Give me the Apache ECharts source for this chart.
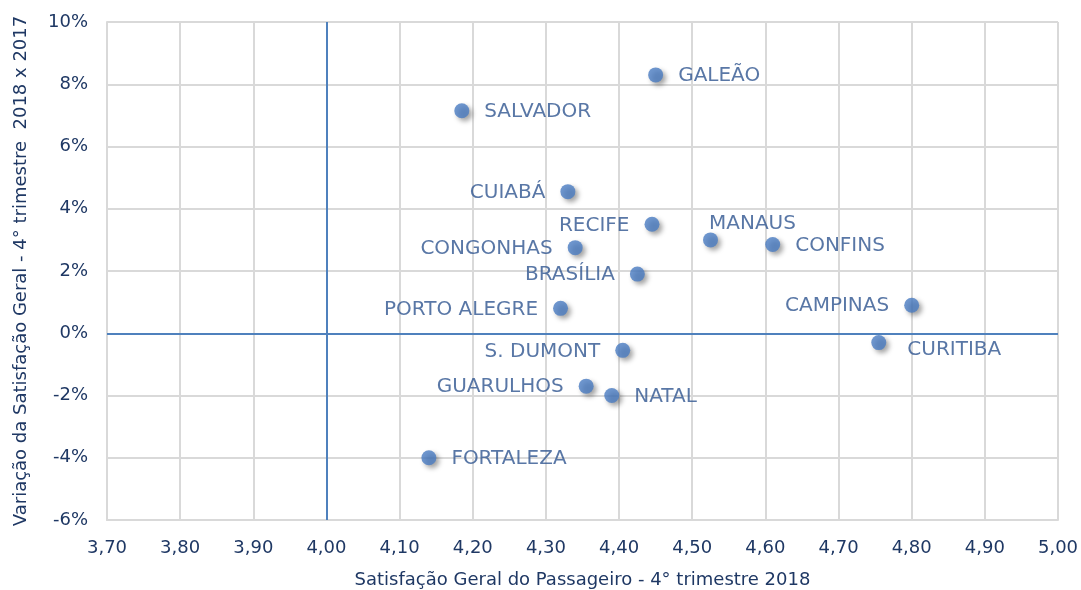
<!DOCTYPE html>
<html>
<head>
<meta charset="utf-8">
<script src="https://cdn.jsdelivr.net/npm/echarts@6/dist/echarts.min.js"></script>
<style>
  html, body { margin: 0; padding: 0; background: #fff; }
  #chart-container { width: 1081px; height: 590px; }
</style>
</head>
<body>
<div id="chart-container"></div>
<script>
var airports = ['GALEÃO', 'SALVADOR', 'CUIABÁ', 'RECIFE', 'MANAUS', 'CONFINS', 'CONGONHAS', 'BRASÍLIA',
  'PORTO ALEGRE', 'CAMPINAS', 'CURITIBA', 'S. DUMONT', 'GUARULHOS', 'NATAL', 'FORTALEZA'];
var satisfacao = [4.45, 4.185, 4.33, 4.445, 4.525, 4.61, 4.34, 4.425, 4.32, 4.80, 4.755, 4.405, 4.355, 4.39, 4.14];
var variacao = [8.3, 7.15, 4.55, 3.5, 3.0, 2.85, 2.75, 1.9, 0.8, 0.9, -0.3, -0.55, -1.7, -2.0, -4.0];

var dom = document.getElementById('chart-container');
var myChart = echarts.init(dom, null, { renderer: 'canvas' });

var fontFam = 'DejaVu Sans';
var labelColor = '#2f5590';
var axisColor = '#1f3864';

// which side of the dot each label sits on
var leftSide = ['CUIABÁ', 'RECIFE', 'CONGONHAS', 'BRASÍLIA', 'PORTO ALEGRE', 'CAMPINAS', 'S. DUMONT', 'GUARULHOS'];

var points = airports.map(function (name, i) {
  var lbl = { position: leftSide.indexOf(name) >= 0 ? 'left' : 'right', offset: [0, 1] };
  if (name === 'MANAUS') lbl.offset = [-24, -16];
  if (name === 'CURITIBA') lbl.offset = [6, 7];
  return { name: name, value: [satisfacao[i], variacao[i]], label: lbl };
});

var option = {
  animation: false,
  grid: { left: 107, right: 23, top: 22, bottom: 70, outerBoundsMode: 'none' },
  xAxis: {
    type: 'value',
    min: 3.7,
    max: 5.0,
    interval: 0.1,
    name: 'Satisfação Geral do Passageiro - 4° trimestre 2018',
    nameLocation: 'middle',
    nameGap: 51,
    nameTextStyle: { color: axisColor, fontSize: 18, fontFamily: fontFam },
    axisLine: { onZero: false, lineStyle: { color: '#d9d9d9', width: 2 } },
    axisTick: { show: false },
    axisLabel: {
      color: axisColor, fontSize: 18, fontFamily: fontFam, margin: 19,
      formatter: function (v) { return v.toFixed(2).replace('.', ','); }
    },
    splitLine: { show: true, lineStyle: { color: '#d9d9d9', width: 2 } }
  },
  yAxis: {
    type: 'value',
    min: -6,
    max: 10,
    interval: 2,
    name: 'Variação da Satisfação Geral - 4° trimestre  2018 x 2017',
    nameLocation: 'middle',
    nameGap: 77,
    nameTextStyle: { color: axisColor, fontSize: 18, fontFamily: fontFam },
    axisLine: { show: true, onZero: false, lineStyle: { color: '#d9d9d9', width: 2 } },
    axisTick: { show: false },
    axisLabel: { color: axisColor, fontSize: 18, fontFamily: fontFam, margin: 19, formatter: '{value}%' },
    splitLine: { show: true, lineStyle: { color: '#d9d9d9', width: 2 } }
  },
  series: [
    {
      type: 'scatter',
      symbolSize: 15,
      data: points,
      itemStyle: {
        color: '#4a7cc2',
        shadowColor: 'rgba(0,0,0,0.45)',
        shadowBlur: 5,
        shadowOffsetX: 3,
        shadowOffsetY: 3
      },
      label: {
        show: true,
        formatter: '{b}',
        distance: 15,
        color: labelColor,
        fontSize: 20,
        fontFamily: fontFam
      },
      markLine: {
        silent: true,
        symbol: 'none',
        label: { show: false },
        lineStyle: { color: '#4f81bd', width: 2, type: 'solid' },
        data: [{ xAxis: 4.0 }, { yAxis: 0 }]
      }
    }
  ]
};

myChart.setOption(option);
window.addEventListener('resize', myChart.resize);
</script>
</body>
</html>
